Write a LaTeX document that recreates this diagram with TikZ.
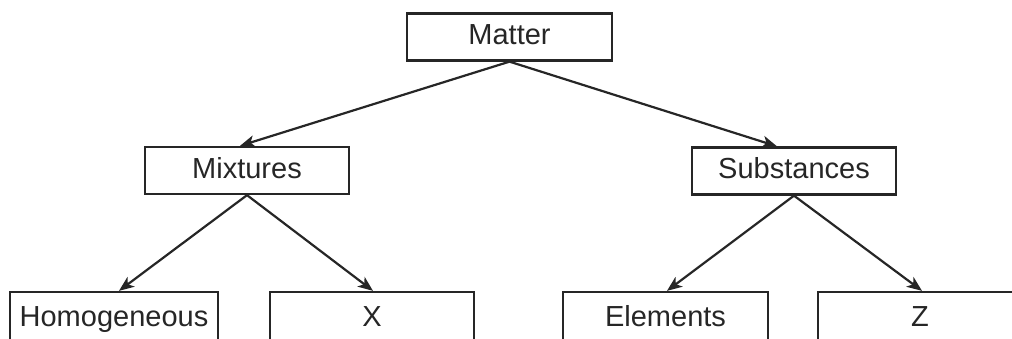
\documentclass[tikz,border=0pt]{standalone}
\usepackage{fontspec}
\setmainfont{Liberation Sans}
\usetikzlibrary{arrows.meta}
\begin{document}
\begin{tikzpicture}[x=1pt,y=-1pt,
  box/.style={draw=black!85,line width=2.3pt,minimum height=47pt,inner sep=0pt,
    text height=21pt,text depth=5pt,
    font=\fontsize{29}{33}\selectfont,text=black!85},
  link/.style={draw=black!85,line width=2.2pt,-{Stealth[length=15pt,width=12pt,inset=4pt]}}]
\useasboundingbox (0,0) rectangle (1012,339);
\clip (0,0) rectangle (1012,339);
\node[box,minimum width=205pt] (matter) at (509.5,37) {Matter};
\node[box,minimum width=204pt] (mix) at (247,170.5) {Mixtures};
\node[box,minimum width=204pt] (sub) at (794,171) {Substances};
\node[box,minimum width=208pt,minimum height=52pt] (hom) at (114,318) {Homogeneous};
\node[box,minimum width=204pt,minimum height=52pt] (x) at (372,318) {X};
\node[box,minimum width=205pt,minimum height=52pt] (el) at (665.5,318) {Elements};
\node[box,minimum width=204pt,minimum height=52pt] (z) at (920,318) {Z};
\draw[link] (matter.south) -- ([xshift=-7pt]mix.north);
\draw[link] (matter.south) -- ([xshift=-17pt]sub.north);
\draw[link] (mix.south) -- ([xshift=5pt]hom.north);
\draw[link] (mix.south) -- ([xshift=1pt]x.north);
\draw[link] (sub.south) -- ([xshift=1.5pt]el.north);
\draw[link] (sub.south) -- ([xshift=2pt]z.north);
\end{tikzpicture}
\end{document}
